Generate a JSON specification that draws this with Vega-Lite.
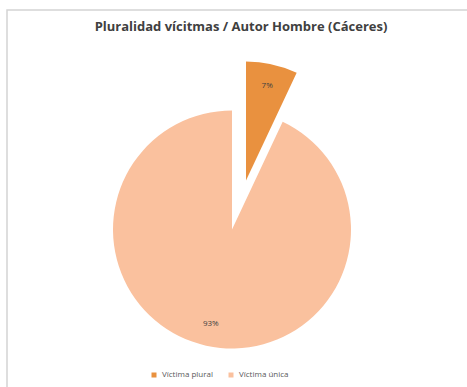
{
  "$schema": "https://vega.github.io/schema/vega-lite/v6.json",
  "width": 467,
  "height": 387,
  "autosize": {"type": "fit", "contains": "padding"},
  "padding": {"left": 7, "top": 10, "right": -8, "bottom": -8},
  "background": "white",
  "view": {"stroke": "#d4d4d4", "strokeWidth": 1.5, "fill": "white"},
  "title": {
    "text": "Pluralidad vícitmas / Autor Hombre (Cáceres)",
    "font": "Open Sans",
    "fontSize": 13,
    "fontWeight": "bold",
    "color": "#404040",
    "offset": -24,
    "anchor": "middle"
  },
  "data": {
    "values": [
      {"tipo": "Víctima plural", "pct": 7},
      {"tipo": "Víctima única", "pct": 93}
    ]
  },
  "encoding": {
    "theta": {"field": "pct", "type": "quantitative", "stack": true},
    "color": {
      "field": "tipo",
      "type": "nominal",
      "scale": {"domain": ["Víctima plural", "Víctima única"], "range": ["#E9913F", "#FAC19E"]},
      "legend": {
        "title": null,
        "orient": "none",
        "legendX": 143,
        "legendY": 361,
        "direction": "horizontal",
        "symbolType": "square",
        "symbolSize": 25,
        "labelFont": "Open Sans",
        "labelFontSize": 8,
        "labelColor": "#595959",
        "columnPadding": 14
      }
    }
  },
  "layer": [
    {
      "mark": {"type": "arc", "radius": 119, "xOffset": -9, "yOffset": 27},
      "encoding": {"opacity": {"condition": {"test": "datum.tipo === 'Víctima plural'", "value": 0}, "value": 1}}
    },
    {
      "mark": {"type": "arc", "radius": 119, "xOffset": 5, "yOffset": -22},
      "encoding": {"opacity": {"condition": {"test": "datum.tipo === 'Víctima plural'", "value": 1}, "value": 0}}
    },
    {
      "mark": {"type": "text", "radius": 97, "xOffset": -9, "yOffset": 27, "font": "Open Sans", "fontSize": 8},
      "encoding": {
        "text": {"field": "label", "type": "nominal"},
        "color": {"value": "#404040"},
        "opacity": {"condition": {"test": "datum.tipo === 'Víctima plural'", "value": 0}, "value": 1}
      },
      "transform": [{"calculate": "datum.pct + '%'", "as": "label"}]
    },
    {
      "mark": {"type": "text", "radius": 97, "xOffset": 5, "yOffset": -22, "font": "Open Sans", "fontSize": 8},
      "encoding": {
        "text": {"field": "label", "type": "nominal"},
        "color": {"value": "#404040"},
        "opacity": {"condition": {"test": "datum.tipo === 'Víctima plural'", "value": 1}, "value": 0}
      },
      "transform": [{"calculate": "datum.pct + '%'", "as": "label"}]
    }
  ]
}
